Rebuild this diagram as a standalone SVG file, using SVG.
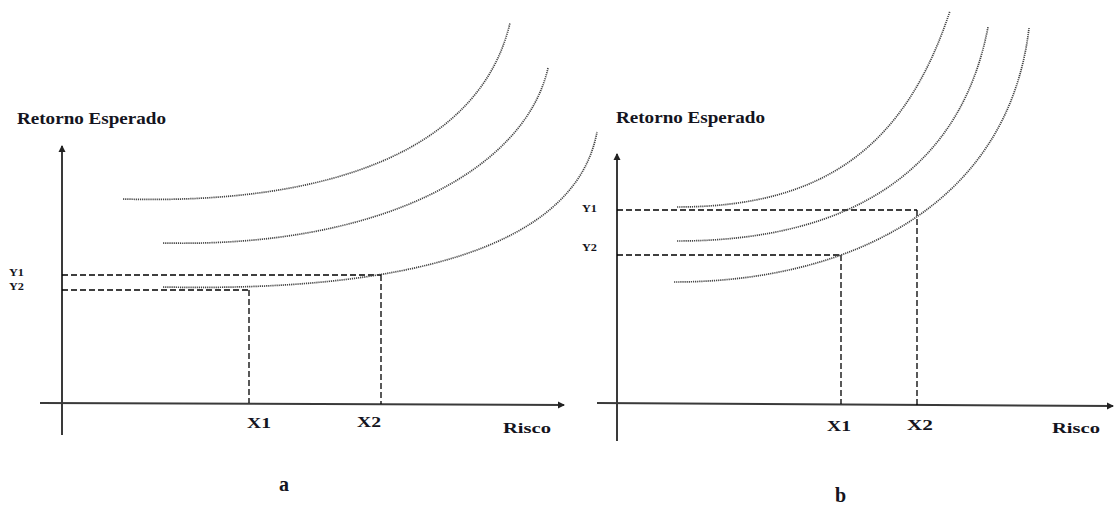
<svg xmlns="http://www.w3.org/2000/svg" width="1118" height="507" viewBox="0 0 1118 507">
<defs>
<marker id="arr" markerWidth="8" markerHeight="8" refX="6" refY="4" orient="auto" markerUnits="userSpaceOnUse">
<path d="M0,0.5 L7,4 L0,7.5 Z" fill="#222"/>
</marker>
<style>
.ax{stroke:#3a3a3a;stroke-width:2;fill:none}
.dash{stroke:#000;stroke-width:1.3;stroke-dasharray:6 3;fill:none}
.crv{stroke:#444;stroke-width:1.7;stroke-dasharray:1.2 0.9;fill:none}
.t{font-family:"Liberation Serif","Times New Roman",serif;font-weight:bold;fill:#141420}
.big{font-size:17px}
.mid{font-size:14.5px}
.sm{font-size:11px}
.lab{font-size:20px}
</style>
</defs>
<rect width="1118" height="507" fill="#fff"/>
<g id="panel-a">
<g id="connectors-a">
<line class="ax" x1="62" y1="435" x2="62" y2="146" marker-end="url(#arr)"/>
<line class="ax" x1="40" y1="403" x2="564" y2="405" marker-end="url(#arr)"/>
<line class="dash" x1="62" y1="275" x2="381" y2="275"/>
<line class="dash" x1="62" y1="290" x2="249" y2="290"/>
<line class="dash" x1="249" y1="290" x2="249" y2="403"/>
<line class="dash" x1="381" y1="275" x2="381" y2="404"/>
</g>
<g id="curves-a">
<path class="crv" d="M123,199 C330,205 480,150 510,23"/>
<path class="crv" d="M163,243 C380,248 525,170 548,68"/>
<path class="crv" d="M163,287 C400,292 575,250 597,132"/>
</g>
<g id="labels-a">
<text class="t big" x="17" y="124" textLength="149" lengthAdjust="spacingAndGlyphs">Retorno Esperado</text>
<text class="t sm" x="9" y="276" textLength="15" lengthAdjust="spacingAndGlyphs">Y1</text>
<text class="t sm" x="9" y="290" textLength="15" lengthAdjust="spacingAndGlyphs">Y2</text>
<text class="t mid" x="247" y="428" textLength="24" lengthAdjust="spacingAndGlyphs">X1</text>
<text class="t mid" x="357" y="427" textLength="24" lengthAdjust="spacingAndGlyphs">X2</text>
<text class="t mid" x="503" y="433" textLength="48" lengthAdjust="spacingAndGlyphs">Risco</text>
<text class="t lab" x="279" y="491">a</text>
</g>
</g>
<g id="panel-b">
<g id="connectors-b">
<line class="ax" x1="617" y1="441" x2="617" y2="154" marker-end="url(#arr)"/>
<line class="ax" x1="597" y1="403" x2="1113" y2="406" marker-end="url(#arr)"/>
<line class="dash" x1="617" y1="210" x2="917" y2="210"/>
<line class="dash" x1="617" y1="255" x2="841" y2="255"/>
<line class="dash" x1="841" y1="255" x2="841" y2="404"/>
<line class="dash" x1="917" y1="210" x2="917" y2="405"/>
</g>
<g id="curves-b">
<path class="crv" d="M677,207 C827,207 906,144 950,11"/>
<path class="crv" d="M677,241 C857,241 962,165 988,27"/>
<path class="crv" d="M674,282 C846,282 1008,208 1029,28"/>
</g>
<g id="labels-b">
<text class="t big" x="616" y="123" textLength="149" lengthAdjust="spacingAndGlyphs">Retorno Esperado</text>
<text class="t sm" x="582" y="212" textLength="15" lengthAdjust="spacingAndGlyphs">Y1</text>
<text class="t sm" x="582" y="251" textLength="15" lengthAdjust="spacingAndGlyphs">Y2</text>
<text class="t mid" x="827" y="431" textLength="24" lengthAdjust="spacingAndGlyphs">X1</text>
<text class="t mid" x="907" y="430" textLength="26" lengthAdjust="spacingAndGlyphs">X2</text>
<text class="t mid" x="1052" y="433" textLength="48" lengthAdjust="spacingAndGlyphs">Risco</text>
<text class="t lab" x="835" y="502">b</text>
</g>
</g>
</svg>
